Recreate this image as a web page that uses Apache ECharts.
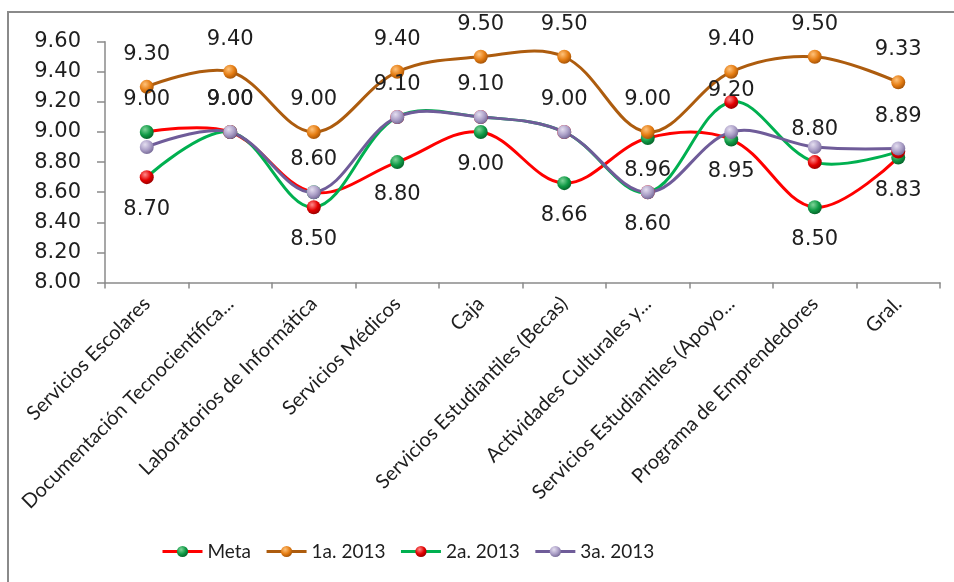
<!DOCTYPE html>
<html>
<head>
<meta charset="utf-8">
<script src="https://cdn.jsdelivr.net/npm/echarts@6/dist/echarts.min.js"></script>
<style>
  html, body { margin: 0; padding: 0; background: #ffffff; }
  #chart { width: 954px; height: 582px; }
</style>
</head>
<body>
<div id="chart"></div>
<script>
// Categories (areas evaluated)
const categories = [
  'Servicios Escolares',
  'Documentación Tecnocientífica...',
  'Laboratorios de Informática',
  'Servicios Médicos',
  'Caja',
  'Servicios Estudiantiles (Becas)',
  'Actividades Culturales y...',
  'Servicios Estudiantiles (Apoyo...',
  'Programa de Emprendedores',
  'Gral.'
];

// Series values
const meta      = [9.00, 9.00, 8.60, 8.80, 9.00, 8.66, 8.96, 8.95, 8.50, 8.83];
const primera   = [9.30, 9.40, 9.00, 9.40, 9.50, 9.50, 9.00, 9.40, 9.50, 9.33];
const segunda   = [8.70, 9.00, 8.50, 9.10, 9.10, 9.00, 8.60, 9.20, 8.80, 8.87];
const tercera   = [8.90, 9.00, 8.60, 9.10, 9.10, 9.00, 8.60, 9.00, 8.90, 8.89];

// Y axis tick labels
const yTicks = ['8.00', '8.20', '8.40', '8.60', '8.80', '9.00', '9.20', '9.40', '9.60'];

// Which points carry a value label, and on which side of the marker
const metaLabels     = ['top', 'top', 'top', 'bottom', 'bottom', 'bottom', 'bottom', 'bottom', 'bottom', 'bottom'];
const primeraLabels  = ['top', 'top', 'top', 'top', 'top', 'top', 'top', 'top', 'top', 'top'];
const segundaLabels  = ['bottom', '', 'bottom', '', '', '', 'bottom', 'near', 'top', ''];
const terceraLabels  = ['', 'top', '', 'top', 'top', 'top', '', '', '', 'top'];

const NUM_FONT = '"DejaVu Sans", Verdana, sans-serif';
const TXT_FONT = 'Lato, "Open Sans", sans-serif';

function ball(light, mid, dark) {
  return {
    type: 'radial', x: 0.38, y: 0.32, r: 0.75,
    colorStops: [
      { offset: 0, color: light },
      { offset: 0.55, color: mid },
      { offset: 1, color: dark }
    ]
  };
}

function buildData(values, places) {
  return values.map((v, i) => {
    const p = places[i];
    const item = { value: v };
    if (!p) {
      item.label = { show: false };
    } else if (p === 'near') {
      item.label = { show: true, position: 'top', distance: -6 };
    } else {
      item.label = { show: true, position: p };
    }
    return item;
  });
}

// Free-flowing spline through the points (allowed to overshoot between them)
function curveSeries(values, lineColor) {
  return {
    type: 'custom',
    coordinateSystem: 'cartesian2d',
    silent: true,
    animation: false,
    data: values.map((v, i) => [i, v]),
    encode: { x: 0, y: 1 },
    renderItem: function (params, api) {
      if (params.dataIndex !== 0) return null;
      const pts = values.map((v, i) => api.coord([i, v]));
      return {
        type: 'polyline',
        shape: { points: pts, smooth: 0.36 },
        style: { fill: null, stroke: lineColor, lineWidth: 3, lineJoin: 'round', lineCap: 'round' }
      };
    }
  };
}

// Markers, value labels and legend entry
function markerSeries(name, values, places, lineColor, marker) {
  return {
    name: name,
    type: 'line',
    symbol: 'circle',
    symbolSize: 14,
    data: buildData(values, places),
    lineStyle: { color: lineColor, width: 3, opacity: 0 },
    itemStyle: { color: marker, borderWidth: 0 },
    label: {
      show: true,
      distance: 15,
      fontFamily: NUM_FONT,
      fontSize: 21,
      color: '#1e1e1e',
      formatter: p => p.value.toFixed(2)
    },
    emphasis: { disabled: true },
    animation: false
  };
}

const chart = echarts.init(document.getElementById('chart'), null, { renderer: 'canvas' });

chart.setOption({
  backgroundColor: '#ffffff',
  animation: false,
  graphic: [{
    type: 'rect',
    shape: { x: 8, y: 12, width: 1000, height: 1000 },
    style: { fill: 'none', stroke: '#8a8a8a', lineWidth: 2 },
    silent: true,
    z: 100
  }],
  grid: { left: 105, right: 14, top: 41.7, bottom: 299.5, containLabel: false },
  legend: {
    left: 156,
    top: 537,
    itemWidth: 40,
    itemHeight: 14,
    itemGap: 14,
    lineStyle: { opacity: 1, width: 3 },
    textStyle: { fontFamily: TXT_FONT, fontSize: 19, color: '#1e1e1e' },
    data: ['Meta', '1a. 2013', '2a. 2013', '3a. 2013']
  },
  xAxis: {
    type: 'category',
    data: categories,
    boundaryGap: true,
    axisLine: { lineStyle: { color: '#8a8a8a', width: 1.5 } },
    axisTick: { show: true, length: 6, alignWithLabel: false, lineStyle: { color: '#8a8a8a', width: 1.5 } },
    axisLabel: {
      rotate: 45,
      margin: 18,
      interval: 0,
      fontFamily: TXT_FONT,
      fontSize: 20,
      color: '#1e1e1e'
    },
    splitLine: { show: false }
  },
  yAxis: {
    type: 'value',
    min: 8,
    max: 9.6,
    interval: 0.2,
    axisLine: { show: true, lineStyle: { color: '#8a8a8a', width: 1.5 } },
    axisTick: { show: true, length: 8, lineStyle: { color: '#8a8a8a', width: 1.5 } },
    axisLabel: {
      margin: 24,
      fontFamily: NUM_FONT,
      fontSize: 21,
      color: '#1e1e1e',
      formatter: v => yTicks[Math.round((v - 8) / 0.2)]
    },
    splitLine: { show: false }
  },
  series: [
    curveSeries(meta, '#ff0000'),
    markerSeries('Meta', meta, metaLabels, '#ff0000', ball('#7fd49a', '#0f9a45', '#045a25')),
    curveSeries(primera, '#ad5c0e'),
    markerSeries('1a. 2013', primera, primeraLabels, '#ad5c0e', ball('#ffc27a', '#e47c12', '#9a4c05')),
    curveSeries(segunda, '#00b050'),
    markerSeries('2a. 2013', segunda, segundaLabels, '#00b050', ball('#ff8a8a', '#e30000', '#8c0000')),
    curveSeries(tercera, '#6f5c99'),
    markerSeries('3a. 2013', tercera, terceraLabels, '#6f5c99', ball('#e4def0', '#aa9ec6', '#6e6290'))
  ]
});
</script>
</body>
</html>
